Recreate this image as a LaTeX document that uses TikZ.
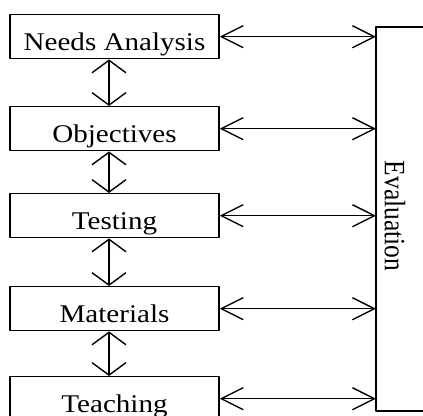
\documentclass[tikz,border=0pt]{standalone}
\usepackage{fontspec}
\setmainfont{Liberation Serif}
\usetikzlibrary{arrows.meta}

\newcommand{\widetxt}[1]{\scalebox{1.14}[1]{#1}}

\begin{document}
\begin{tikzpicture}[x=1pt, y=-1pt, line width=1.4pt, line cap=round, line join=round]

\tikzset{
  stage/.style={draw, anchor=north, minimum width=209pt, minimum height=44pt,
    inner sep=0pt, text height=36pt, text depth=8pt,
    font=\fontsize{25.5}{30}\selectfont},
  sidelink/.style={{Straight Barb[length=22pt,width=22pt]}-{Straight Barb[length=22pt,width=22pt]}},
  downlink/.style={{Straight Barb[length=12.5pt,width=34pt]}-{Straight Barb[length=12.5pt,width=34pt]}}
}

% Frame
\useasboundingbox (0,0) rectangle (423,415);
\clip (0,0) rectangle (423,415);

% Stages
\node[stage] (needs) at (114.5,14) {\widetxt{Needs Analysis}};
\node[stage] (obj)   at (114.5,106) {\widetxt{Objectives}};
\node[stage] (test)  at (114.5,193) {\widetxt{Testing}};
\node[stage] (mat)   at (114.5,286) {\widetxt{Materials}};
\node[stage] (teach) at (114.5,376) {\widetxt{Teaching}};

% Evaluation box
\draw (376,27) rectangle (445,411);
\coordinate (ev) at (376,27);
\node[rotate=-90, inner sep=0pt, font=\fontsize{25.5}{30}\selectfont] (eval) at (395,216)
  {\scalebox{1}[1.16]{Evaluation}};

% Links between stages
\draw[downlink] ([xshift=-5.5pt]needs.south) -- ([xshift=-5.5pt]obj.north);
\draw[downlink] ([xshift=-5.5pt]obj.south) -- ([xshift=-5.5pt]test.north);
\draw[downlink] ([xshift=-5.5pt]test.south) -- ([xshift=-5.5pt]mat.north);
\draw[downlink] ([xshift=-5.5pt]mat.south) -- ([xshift=-5.5pt]teach.north);

% Links to evaluation
\foreach \s in {needs,obj,test,mat,teach}
  \draw[sidelink] (\s.east) -- (\s.east -| ev);

\end{tikzpicture}
\end{document}
